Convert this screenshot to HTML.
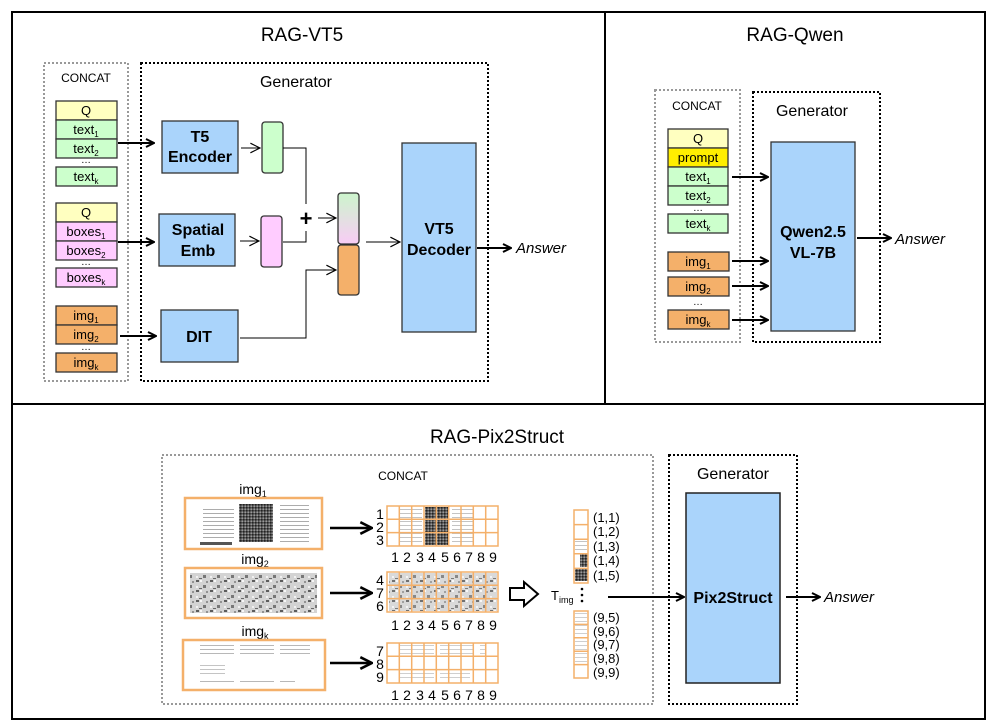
<!DOCTYPE html>
<html><head><meta charset="utf-8">
<style>
html,body{margin:0;padding:0;background:#fff;}
svg{display:block;}
text{font-family:"Liberation Sans",Arial,sans-serif;fill:#000;}
</style></head>
<body>
<svg width="996" height="724" viewBox="0 0 996 724" xmlns="http://www.w3.org/2000/svg">
<defs>
  <marker id="ah" viewBox="0 0 10 10" refX="9" refY="5" markerWidth="10" markerHeight="10" markerUnits="userSpaceOnUse" orient="auto">
    <path d="M1,1 L9,5 L1,9" fill="none" stroke="#000" stroke-width="2"/>
  </marker>
  <marker id="ah2" viewBox="0 0 12 12" refX="11" refY="6" markerWidth="14" markerHeight="14" markerUnits="userSpaceOnUse" orient="auto">
    <path d="M1,1 L11,6 L1,11" fill="none" stroke="#000" stroke-width="2.2"/>
  </marker>
  <marker id="ahT" viewBox="0 0 10 10" refX="9" refY="5" markerWidth="12" markerHeight="12" markerUnits="userSpaceOnUse" orient="auto">
    <path d="M1,1 L9,5 L1,9" fill="none" stroke="#000" stroke-width="1"/>
  </marker>
  <linearGradient id="gp" x1="0" y1="0" x2="0" y2="1">
    <stop offset="0" stop-color="#ccf5cc"/><stop offset="1" stop-color="#f8ccf5"/>
  </linearGradient>
  <pattern id="txt" width="40" height="4" patternUnits="userSpaceOnUse">
    <rect x="0" y="1" width="34" height="1" fill="#888"/>
  </pattern>
  <pattern id="chk" width="3" height="3" patternUnits="userSpaceOnUse">
    <rect width="3" height="3" fill="#555"/><rect width="1.5" height="1.5" fill="#222"/><rect x="1.5" y="1.5" width="1.5" height="1.5" fill="#999"/>
  </pattern>
  <pattern id="noise" width="14" height="10" patternUnits="userSpaceOnUse">
    <rect width="14" height="10" fill="#c8c8c8"/><rect width="3" height="2" fill="#333"/><rect x="7" y="5" width="3" height="3" fill="#555"/><rect x="4" y="0" width="2" height="2" fill="#f5f5f5"/><rect x="0" y="6" width="2" height="2" fill="#eee"/><rect x="10" y="1" width="2" height="2" fill="#777"/><rect x="3" y="8" width="3" height="1" fill="#444"/>
  </pattern>
</defs>

<rect x="12" y="12" width="973" height="707" fill="none" stroke="#000" stroke-width="2"/>
<line x1="12" y1="404" x2="985" y2="404" stroke="#000" stroke-width="2"/>
<line x1="605" y1="12" x2="605" y2="404" stroke="#000" stroke-width="2"/>

<!-- RAG-VT5 -->
<text x="302" y="41" font-size="19" text-anchor="middle">RAG-VT5</text>
<rect x="44" y="63" width="84" height="318" fill="none" stroke="#999" stroke-width="2" stroke-dasharray="2,2"/>
<rect x="141" y="63" width="347" height="318" fill="none" stroke="#000" stroke-width="2" stroke-dasharray="2,2"/>
<text x="86" y="82" font-size="12" text-anchor="middle">CONCAT</text>
<text x="296" y="87" font-size="16" text-anchor="middle">Generator</text>

<g stroke="#333" stroke-width="1.3">
<rect x="56" y="101" width="61" height="19" fill="#ffffc0"/>
<rect x="56" y="120" width="61" height="19" fill="#ccffcc"/>
<rect x="56" y="139" width="61" height="19" fill="#ccffcc"/>
<rect x="56" y="167" width="61" height="19" fill="#ccffcc"/>
<rect x="56" y="203" width="61" height="19" fill="#ffffc0"/>
<rect x="56" y="222" width="61" height="19" fill="#ffccff"/>
<rect x="56" y="241" width="61" height="19" fill="#ffccff"/>
<rect x="56" y="268" width="61" height="19" fill="#ffccff"/>
<rect x="56" y="306" width="61" height="19" fill="#f4b06a"/>
<rect x="56" y="325" width="61" height="19" fill="#f4b06a"/>
<rect x="56" y="353" width="61" height="19" fill="#f4b06a"/>
</g>
<g font-size="13" text-anchor="middle">
<text x="86" y="115">Q</text>
<text x="86" y="134">text<tspan font-size="8" dy="3">1</tspan></text>
<text x="86" y="153">text<tspan font-size="8" dy="3">2</tspan></text>
<text x="86" y="163" font-size="10">…</text>
<text x="86" y="181">text<tspan font-size="8" dy="3">k</tspan></text>
<text x="86" y="217">Q</text>
<text x="86" y="236">boxes<tspan font-size="8" dy="3">1</tspan></text>
<text x="86" y="255">boxes<tspan font-size="8" dy="3">2</tspan></text>
<text x="86" y="265" font-size="10">…</text>
<text x="86" y="282">boxes<tspan font-size="8" dy="3">k</tspan></text>
<text x="86" y="320">img<tspan font-size="8" dy="3">1</tspan></text>
<text x="86" y="339">img<tspan font-size="8" dy="3">2</tspan></text>
<text x="86" y="350" font-size="10">…</text>
<text x="86" y="367">img<tspan font-size="8" dy="3">k</tspan></text>
</g>

<g stroke="#000" stroke-width="2" fill="none">
<line x1="118" y1="143" x2="154" y2="143" marker-end="url(#ah)"/>
<line x1="118" y1="242" x2="154" y2="242" marker-end="url(#ah)"/>
<line x1="120" y1="336" x2="156" y2="336" marker-end="url(#ah)"/>
</g>

<g stroke="#333" stroke-width="1.3" fill="#aad4fb">
<rect x="162" y="121" width="76" height="52"/>
<rect x="159" y="214" width="76" height="52"/>
<rect x="161" y="310" width="77" height="52"/>
<rect x="402" y="143" width="74" height="189"/>
</g>
<g font-size="16" font-weight="bold" text-anchor="middle">
<text x="200" y="142">T5</text>
<text x="200" y="162">Encoder</text>
<text x="198" y="235">Spatial</text>
<text x="198" y="256">Emb</text>
<text x="199" y="342">DIT</text>
<text x="439" y="234">VT5</text>
<text x="439" y="255">Decoder</text>
</g>

<rect x="262" y="122" width="21" height="51" rx="3" fill="#ccffcc" stroke="#333" stroke-width="1.3"/>
<rect x="261" y="216" width="21" height="51" rx="3" fill="#ffccff" stroke="#333" stroke-width="1.3"/>
<rect x="338" y="193" width="21" height="51" rx="3" fill="url(#gp)" stroke="#333" stroke-width="1.3"/>
<rect x="338" y="245" width="21" height="50" rx="3" fill="#f4b06a" stroke="#333" stroke-width="1.3"/>

<g stroke="#000" stroke-width="1" fill="none">
<line x1="241" y1="148" x2="260" y2="148" marker-end="url(#ahT)"/>
<line x1="240" y1="241" x2="259" y2="241" marker-end="url(#ahT)"/>
<polyline points="283,148 306,148 306,204"/>
<polyline points="283,242 306,242 306,231"/>
<line x1="318" y1="218" x2="336" y2="218" marker-end="url(#ahT)"/>
<polyline points="240,338 306,338 306,270 336,270" marker-end="url(#ahT)"/>
<line x1="366" y1="242" x2="400" y2="242" marker-end="url(#ahT)"/>
</g>
<text x="306" y="226" font-size="22" font-weight="bold" text-anchor="middle">+</text>
<line x1="477" y1="248" x2="511" y2="248" stroke="#000" stroke-width="2" marker-end="url(#ah)"/>
<text x="516" y="253" font-size="15" font-style="italic">Answer</text>

<!-- RAG-Qwen -->
<text x="795" y="41" font-size="19" text-anchor="middle">RAG-Qwen</text>
<rect x="655" y="90" width="85" height="252" fill="none" stroke="#999" stroke-width="2" stroke-dasharray="2,2"/>
<rect x="753" y="92" width="127" height="250" fill="none" stroke="#000" stroke-width="2" stroke-dasharray="2,2"/>
<text x="697" y="110" font-size="12" text-anchor="middle">CONCAT</text>
<text x="812" y="116" font-size="16" text-anchor="middle">Generator</text>

<g stroke="#333" stroke-width="1.3">
<rect x="668" y="129" width="60" height="19" fill="#ffffc0"/>
<rect x="668" y="148" width="60" height="19" fill="#ffee00"/>
<rect x="668" y="167" width="60" height="19" fill="#ccffcc"/>
<rect x="668" y="186" width="60" height="19" fill="#ccffcc"/>
<rect x="668" y="214" width="60" height="19" fill="#ccffcc"/>
<rect x="668" y="252" width="61" height="19" fill="#f4b06a"/>
<rect x="668" y="277" width="61" height="19" fill="#f4b06a"/>
<rect x="668" y="310" width="61" height="19" fill="#f4b06a"/>
</g>
<g font-size="13" text-anchor="middle">
<text x="698" y="143">Q</text>
<text x="698" y="162">prompt</text>
<text x="698" y="181">text<tspan font-size="8" dy="3">1</tspan></text>
<text x="698" y="200">text<tspan font-size="8" dy="3">2</tspan></text>
<text x="698" y="211" font-size="10">…</text>
<text x="698" y="228">text<tspan font-size="8" dy="3">k</tspan></text>
<text x="698" y="266">img<tspan font-size="8" dy="3">1</tspan></text>
<text x="698" y="291">img<tspan font-size="8" dy="3">2</tspan></text>
<text x="698" y="305" font-size="10">…</text>
<text x="698" y="324">img<tspan font-size="8" dy="3">k</tspan></text>
</g>
<rect x="771" y="142" width="84" height="189" fill="#aad4fb" stroke="#333" stroke-width="1.3"/>
<text x="813" y="237" font-size="16" font-weight="bold" text-anchor="middle">Qwen2.5</text>
<text x="813" y="258" font-size="16" font-weight="bold" text-anchor="middle">VL-7B</text>
<g stroke="#000" stroke-width="2">
<line x1="732" y1="177" x2="768" y2="177" marker-end="url(#ah)"/>
<line x1="732" y1="261" x2="768" y2="261" marker-end="url(#ah)"/>
<line x1="732" y1="286" x2="768" y2="286" marker-end="url(#ah)"/>
<line x1="732" y1="320" x2="768" y2="320" marker-end="url(#ah)"/>
<line x1="857" y1="238" x2="891" y2="238" marker-end="url(#ah)"/>
</g>
<text x="895" y="244" font-size="15" font-style="italic">Answer</text>

<!-- RAG-Pix2Struct -->
<text x="497" y="443" font-size="19" text-anchor="middle">RAG-Pix2Struct</text>
<rect x="162" y="455" width="491" height="249" fill="none" stroke="#999" stroke-width="2" stroke-dasharray="2,2"/>
<rect x="669" y="455" width="128" height="249" fill="none" stroke="#000" stroke-width="2" stroke-dasharray="2,2"/>
<text x="403" y="480" font-size="12" text-anchor="middle">CONCAT</text>
<text x="733" y="479" font-size="16" text-anchor="middle">Generator</text>

<text x="253" y="494" font-size="14" text-anchor="middle">img<tspan font-size="9" dy="3">1</tspan></text>
<rect x="185" y="498" width="137" height="51" fill="#fff" stroke="#f4b06a" stroke-width="2.5"/>
<rect x="203" y="506" width="32" height="34" fill="url(#txt)" opacity="0.7"/>
<rect x="239" y="504" width="34" height="38" fill="url(#chk)"/>
<rect x="277" y="505" width="32" height="40" fill="url(#txt)" opacity="0.7"/>
<rect x="200" y="542" width="32" height="3" fill="#555"/>

<text x="255" y="564" font-size="14" text-anchor="middle">img<tspan font-size="9" dy="3">2</tspan></text>
<rect x="185" y="568" width="137" height="50" fill="#fff" stroke="#f4b06a" stroke-width="2.5"/>
<rect x="190" y="573" width="127" height="40" fill="url(#noise)" opacity="0.8"/>

<text x="255" y="636" font-size="14" text-anchor="middle">img<tspan font-size="9" dy="3">k</tspan></text>
<rect x="183" y="640" width="142" height="50" fill="#fff" stroke="#f4b06a" stroke-width="2.5"/>
<rect x="200" y="645" width="110" height="12" fill="url(#txt)" opacity="0.6"/>
<rect x="200" y="662" width="25" height="14" fill="url(#txt)" opacity="0.5"/>
<rect x="200" y="679" width="95" height="5" fill="url(#txt)" opacity="0.6"/>

<g stroke="#000" stroke-width="2.5">
<line x1="330" y1="528" x2="372" y2="528" marker-end="url(#ah2)"/>
<line x1="330" y1="593" x2="372" y2="593" marker-end="url(#ah2)"/>
<line x1="330" y1="663" x2="372" y2="663" marker-end="url(#ah2)"/>
</g>

<rect x="400" y="507" width="22" height="38" fill="url(#txt)" opacity="0.5"/>
<rect x="425" y="507" width="24" height="38" fill="url(#chk)"/>
<rect x="452" y="507" width="22" height="38" fill="url(#txt)" opacity="0.5"/>
<rect x="389" y="573" width="108" height="38" fill="url(#noise)" opacity="0.7"/>
<rect x="400" y="645" width="86" height="10" fill="url(#txt)" opacity="0.4"/>
<rect x="400" y="669" width="70" height="10" fill="url(#txt)" opacity="0.4"/>

<g fill="none" stroke="#f4b06a" stroke-width="1.5">
<rect x="387" y="506" width="111" height="40"/>
<path d="M387,519.3H498M387,532.6H498M399.3,506V546M411.7,506V546M424,506V546M436.3,506V546M448.7,506V546M461,506V546M473.3,506V546M485.7,506V546"/>
<rect x="387" y="572" width="111" height="40"/>
<path d="M387,585.3H498M387,598.6H498M399.3,572V612M411.7,572V612M424,572V612M436.3,572V612M448.7,572V612M461,572V612M473.3,572V612M485.7,572V612"/>
<rect x="387" y="643" width="111" height="40"/>
<path d="M387,656.3H498M387,669.6H498M399.3,643V683M411.7,643V683M424,643V683M436.3,643V683M448.7,643V683M461,643V683M473.3,643V683M485.7,643V683"/>
</g>
<g font-size="14" text-anchor="middle">
<text x="380" y="519">1</text><text x="380" y="532">2</text><text x="380" y="545">3</text>
<text x="380" y="585">4</text><text x="380" y="598">7</text><text x="380" y="611">6</text>
<text x="380" y="656">7</text><text x="380" y="669">8</text><text x="380" y="682">9</text>
</g>
<g font-size="14" text-anchor="middle">
<text y="562"><tspan x="395">1</tspan><tspan x="407">2</tspan><tspan x="420">3</tspan><tspan x="432">4</tspan><tspan x="445">5</tspan><tspan x="457">6</tspan><tspan x="469">7</tspan><tspan x="481">8</tspan><tspan x="493">9</tspan></text>
<text y="630"><tspan x="395">1</tspan><tspan x="407">2</tspan><tspan x="420">3</tspan><tspan x="432">4</tspan><tspan x="445">5</tspan><tspan x="457">6</tspan><tspan x="469">7</tspan><tspan x="481">8</tspan><tspan x="493">9</tspan></text>
<text y="700"><tspan x="395">1</tspan><tspan x="407">2</tspan><tspan x="420">3</tspan><tspan x="432">4</tspan><tspan x="445">5</tspan><tspan x="457">6</tspan><tspan x="469">7</tspan><tspan x="481">8</tspan><tspan x="493">9</tspan></text>
</g>

<path d="M510,588 H524 V582 L538,594 L524,606 V600 H510 Z" fill="#fff" stroke="#000" stroke-width="2"/>

<text x="551" y="600" font-size="13">T<tspan font-size="9" dy="3">img</tspan></text>
<g fill="#000"><circle cx="582" cy="589" r="1.3"/><circle cx="582" cy="595" r="1.3"/><circle cx="582" cy="601" r="1.3"/></g>

<rect x="575" y="539" width="12" height="13" fill="url(#txt)" opacity="0.5"/>
<rect x="580" y="554" width="8" height="13" fill="url(#chk)"/>
<rect x="575" y="568" width="13" height="13" fill="url(#chk)"/>
<rect x="575" y="612" width="12" height="52" fill="url(#txt)" opacity="0.4"/>
<g fill="none" stroke="#f4b06a" stroke-width="1.5">
<rect x="574" y="510" width="14" height="73"/>
<path d="M574,524.6H588M574,539.2H588M574,553.8H588M574,568.4H588"/>
<rect x="574" y="611" width="14" height="67"/>
<path d="M574,624.4H588M574,637.8H588M574,651.2H588M574,664.6H588"/>
</g>
<g font-size="13">
<text x="593" y="522">(1,1)</text><text x="593" y="536">(1,2)</text><text x="593" y="551">(1,3)</text><text x="593" y="565">(1,4)</text><text x="593" y="580">(1,5)</text>
<text x="593" y="622">(9,5)</text><text x="593" y="636">(9,6)</text><text x="593" y="649">(9,7)</text><text x="593" y="663">(9,8)</text><text x="593" y="677">(9,9)</text>
</g>

<line x1="608" y1="597" x2="684" y2="597" stroke="#000" stroke-width="2" marker-end="url(#ah)"/>
<rect x="686" y="493" width="94" height="190" fill="#aad4fb" stroke="#222" stroke-width="1.5"/>
<text x="733" y="603" font-size="16" font-weight="bold" text-anchor="middle">Pix2Struct</text>
<line x1="786" y1="597" x2="820" y2="597" stroke="#000" stroke-width="2" marker-end="url(#ah)"/>
<text x="824" y="602" font-size="15" font-style="italic">Answer</text>
</svg>
</body></html>
